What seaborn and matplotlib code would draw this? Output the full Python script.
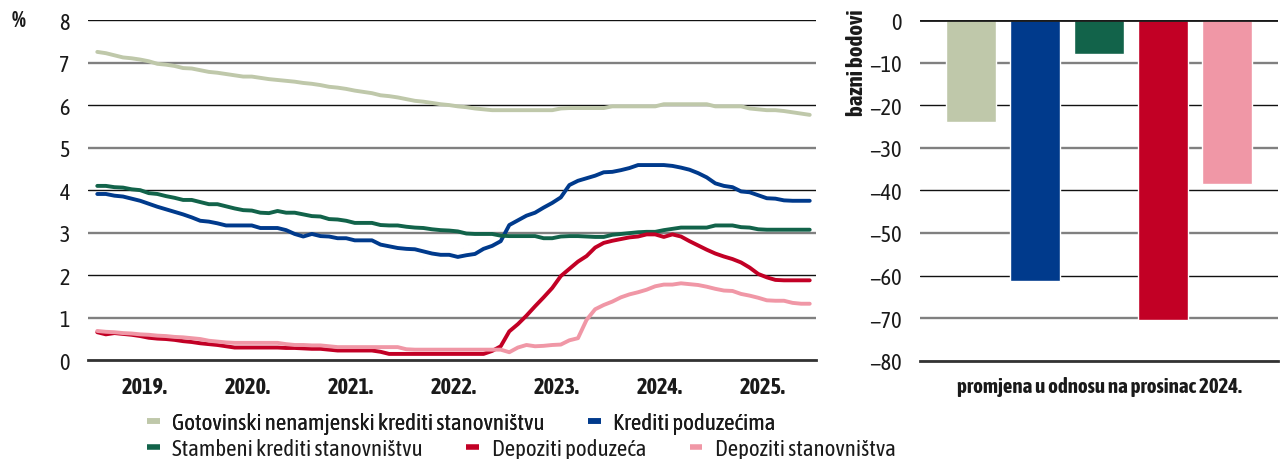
import numpy as np
import pandas as pd
import seaborn as sns
import matplotlib.pyplot as plt
from matplotlib.lines import Line2D

# monthly data, Jan 2019 - Dec 2025
months = pd.date_range('2019-01-01', '2025-12-01', freq='MS')

series_names = ['Gotovinski nenamjenski krediti stanovništvu', 'Krediti poduzećima',
                'Stambeni krediti stanovništvu', 'Depoziti poduzeća', 'Depoziti stanovništva']
colors = ['#bfc8aa', '#003a8c', '#12634a', '#c20025', '#f097a6']

gotovinski = [7.25, 7.22, 7.17, 7.12, 7.10, 7.07, 7.03, 6.97, 6.95, 6.92, 6.87, 6.86,
              6.82, 6.78, 6.76, 6.73, 6.70, 6.67, 6.67, 6.64, 6.61, 6.59, 6.57, 6.55,
              6.52, 6.50, 6.47, 6.43, 6.41, 6.38, 6.34, 6.31, 6.28, 6.23, 6.21, 6.18,
              6.14, 6.10, 6.08, 6.05, 6.02, 6.00, 5.97, 5.95, 5.92, 5.90, 5.88, 5.88,
              5.88, 5.88, 5.88, 5.88, 5.88, 5.88, 5.92, 5.93, 5.93, 5.93, 5.93, 5.93,
              5.97, 5.97, 5.97, 5.97, 5.97, 5.97, 6.02, 6.02, 6.02, 6.02, 6.02, 6.02,
              5.97, 5.97, 5.97, 5.97, 5.92, 5.90, 5.88, 5.88, 5.86, 5.83, 5.80, 5.77]
krediti_poduzecima = [3.91, 3.91, 3.87, 3.85, 3.80, 3.75, 3.68, 3.61, 3.55, 3.49, 3.43, 3.36,
                      3.28, 3.26, 3.22, 3.17, 3.17, 3.17, 3.17, 3.11, 3.11, 3.11, 3.06, 2.97,
                      2.91, 2.97, 2.92, 2.91, 2.87, 2.87, 2.82, 2.82, 2.82, 2.72, 2.68, 2.64,
                      2.62, 2.61, 2.56, 2.51, 2.48, 2.48, 2.43, 2.47, 2.50, 2.62, 2.69, 2.80,
                      3.18, 3.29, 3.40, 3.47, 3.59, 3.70, 3.83, 4.12, 4.22, 4.28, 4.34, 4.42,
                      4.43, 4.47, 4.52, 4.59, 4.59, 4.59, 4.59, 4.57, 4.53, 4.48, 4.40, 4.30,
                      4.16, 4.10, 4.07, 3.97, 3.95, 3.88, 3.81, 3.80, 3.76, 3.75, 3.75, 3.75]
stambeni = [4.10, 4.10, 4.07, 4.06, 4.02, 4.00, 3.93, 3.91, 3.86, 3.82, 3.77, 3.77,
            3.72, 3.67, 3.67, 3.62, 3.57, 3.53, 3.52, 3.47, 3.46, 3.51, 3.47, 3.47,
            3.43, 3.39, 3.38, 3.32, 3.31, 3.28, 3.23, 3.23, 3.23, 3.18, 3.17, 3.17,
            3.14, 3.12, 3.11, 3.08, 3.06, 3.05, 3.03, 2.98, 2.97, 2.97, 2.97, 2.93,
            2.92, 2.92, 2.92, 2.92, 2.87, 2.87, 2.91, 2.92, 2.92, 2.91, 2.90, 2.90,
            2.95, 2.97, 2.99, 3.01, 3.02, 3.02, 3.06, 3.09, 3.12, 3.12, 3.12, 3.12,
            3.17, 3.17, 3.17, 3.13, 3.12, 3.08, 3.07, 3.07, 3.07, 3.07, 3.07, 3.07]
depoziti_poduzeca = [0.66, 0.61, 0.64, 0.62, 0.60, 0.57, 0.53, 0.51, 0.50, 0.48, 0.45, 0.43,
                     0.40, 0.38, 0.36, 0.33, 0.30, 0.30, 0.30, 0.30, 0.30, 0.30, 0.29, 0.29,
                     0.28, 0.27, 0.27, 0.25, 0.23, 0.23, 0.23, 0.23, 0.23, 0.20, 0.15, 0.15,
                     0.15, 0.15, 0.15, 0.15, 0.15, 0.15, 0.15, 0.15, 0.15, 0.15, 0.22, 0.33,
                     0.68, 0.85, 1.05, 1.27, 1.48, 1.70, 1.98, 2.15, 2.32, 2.45, 2.65, 2.76,
                     2.81, 2.85, 2.89, 2.91, 2.96, 2.96, 2.90, 2.96, 2.91, 2.80, 2.70, 2.60,
                     2.51, 2.44, 2.38, 2.30, 2.18, 2.03, 1.95, 1.89, 1.88, 1.88, 1.88, 1.88]
depoziti_stanovnistva = [0.69, 0.67, 0.66, 0.64, 0.63, 0.61, 0.60, 0.58, 0.57, 0.55, 0.54, 0.52,
                         0.50, 0.46, 0.44, 0.42, 0.41, 0.41, 0.41, 0.41, 0.41, 0.41, 0.38, 0.36,
                         0.36, 0.35, 0.35, 0.33, 0.31, 0.31, 0.31, 0.31, 0.31, 0.31, 0.31, 0.31,
                         0.26, 0.25, 0.25, 0.25, 0.25, 0.25, 0.25, 0.25, 0.25, 0.25, 0.25, 0.25,
                         0.19, 0.30, 0.36, 0.33, 0.34, 0.36, 0.37, 0.47, 0.52, 0.95, 1.20, 1.30,
                         1.38, 1.48, 1.55, 1.60, 1.66, 1.74, 1.78, 1.78, 1.81, 1.79, 1.77, 1.73,
                         1.68, 1.64, 1.63, 1.56, 1.52, 1.47, 1.41, 1.40, 1.40, 1.35, 1.33, 1.33]

years = ['2019.', '2020.', '2021.', '2022.', '2023.', '2024.', '2025.']

# change vs Dec 2024, basis points
bar_label = 'promjena u odnosu na prosinac 2024.'
bar_values = [-24, -61.3, -7.9, -70.4, -38.4]

sns.set_style('white')
# condensed face if present, otherwise the plain Liberation / DejaVu
plt.rcParams['font.family'] = ['Asap Condensed', 'Liberation Sans Narrow', 'Liberation Sans', 'DejaVu Sans']
plt.rcParams['text.color'] = '#1a1a1a'
plt.rcParams['xtick.color'] = '#1a1a1a'
plt.rcParams['ytick.color'] = '#1a1a1a'

W, H = 1281, 460
fig = plt.figure(figsize=(W / 100, H / 100), dpi=100)
axl = fig.add_axes([88 / W, (H - 361.3) / H, (816 - 88) / W, 340.3 / H])
axr = fig.add_axes([920 / W, (H - 361.7) / H, (1278 - 920) / W, 340.7 / H])

# ---- left panel: lines
df = pd.DataFrame({'date': months, series_names[0]: gotovinski, series_names[1]: krediti_poduzecima,
                   series_names[2]: stambeni, series_names[3]: depoziti_poduzeca,
                   series_names[4]: depoziti_stanovnistva})
df['m'] = (df['date'].dt.year - 2019) * 12 + df['date'].dt.month - 1
long = df.melt(id_vars=['date', 'm'], var_name='serija', value_name='vrijednost')
sns.lineplot(data=long, x='m', y='vrijednost', hue='serija', hue_order=series_names,
             palette=colors, linewidth=2.8, legend=False, ax=axl)

axl.set_xlim(-1.08, 83.73)
axl.set_ylim(0, 8)
axl.set_yticks(range(0, 9))
axl.set_xticks([-0.5 + 12 * k for k in range(8)])
axl.set_xticklabels([])
axl.set_xticks([5.5 + 12 * k for k in range(7)], minor=True)
axl.set_xticklabels(years, minor=True, fontsize=16, fontweight='bold')
axl.tick_params(axis='x', which='major', direction='inout', length=11, width=1.2, color='#333333')
axl.tick_params(axis='x', which='minor', length=0, pad=11)
axl.tick_params(axis='y', length=0, pad=13, labelsize=16)
axl.set_xlabel('')
axl.set_ylabel('')

# ---- right panel: bars
sns.barplot(x=[bar_label] * 5, y=bar_values, hue=series_names, hue_order=series_names,
            palette=colors, saturation=1, gap=0.22, legend=False, ax=axr)
axr.set_xlim(-0.4475, 0.4475)
axr.set_ylim(-80, 0)
axr.set_yticks(range(-80, 1, 10))
axr.set_xticks([0])
axr.set_xticklabels([bar_label], fontsize=15, fontweight='bold')
axr.set_xticks([-0.43, 0.43], minor=True)
axr.tick_params(axis='x', which='major', length=0, pad=11)
axr.tick_params(axis='x', which='minor', direction='inout', length=11, width=1.2, color='#333333')
axr.tick_params(axis='y', length=0, pad=13, labelsize=16)
axr.axhline(0, color='#1a1a1a', lw=2, zorder=3)
axr.set_xlabel('')
axr.set_ylabel('')

for ax, dark_step in ((axl, 2), (axr, 20)):
    for s in ['top', 'right', 'left']:
        ax.spines[s].set_visible(False)
    ax.spines['bottom'].set_color('#333333')
    ax.spines['bottom'].set_linewidth(2)
    ax.set_axisbelow(True)
    ax.grid(axis='y')
    # alternate dark / grey gridlines like the original
    for tick_val, gl in zip(ax.get_yticks(), ax.get_ygridlines()):
        if int(round(tick_val)) % dark_step == 0:
            gl.set_color('#111111')
            gl.set_linewidth(1.0)
        else:
            gl.set_color('#808080')
            gl.set_linewidth(1.7)

fig.text(12 / W, 1 - 21 / H, '%', fontsize=16, fontweight='bold', va='center', ha='left')
fig.text(857 / W, 1 - 10 / H, 'bazni bodovi', fontsize=16.5, fontweight='bold',
         rotation=90, va='top', ha='center')

# ---- legend in two rows
handles = [Line2D([0], [0], color=c, lw=4, solid_capstyle='butt') for c in colors]
leg_kw = dict(frameon=False, fontsize=16.5, handlelength=0.55, handletextpad=0.55,
              columnspacing=1.9, borderpad=0, borderaxespad=0, loc='center left')
leg1 = fig.legend(handles[:2], series_names[:2], ncol=2,
                  bbox_to_anchor=(147 / W, 1 - 424 / H), **leg_kw)
fig.add_artist(leg1)
fig.legend(handles[2:], series_names[2:], ncol=3,
           bbox_to_anchor=(147 / W, 1 - 450 / H), **leg_kw)

fig.savefig('out.png', dpi=100)
